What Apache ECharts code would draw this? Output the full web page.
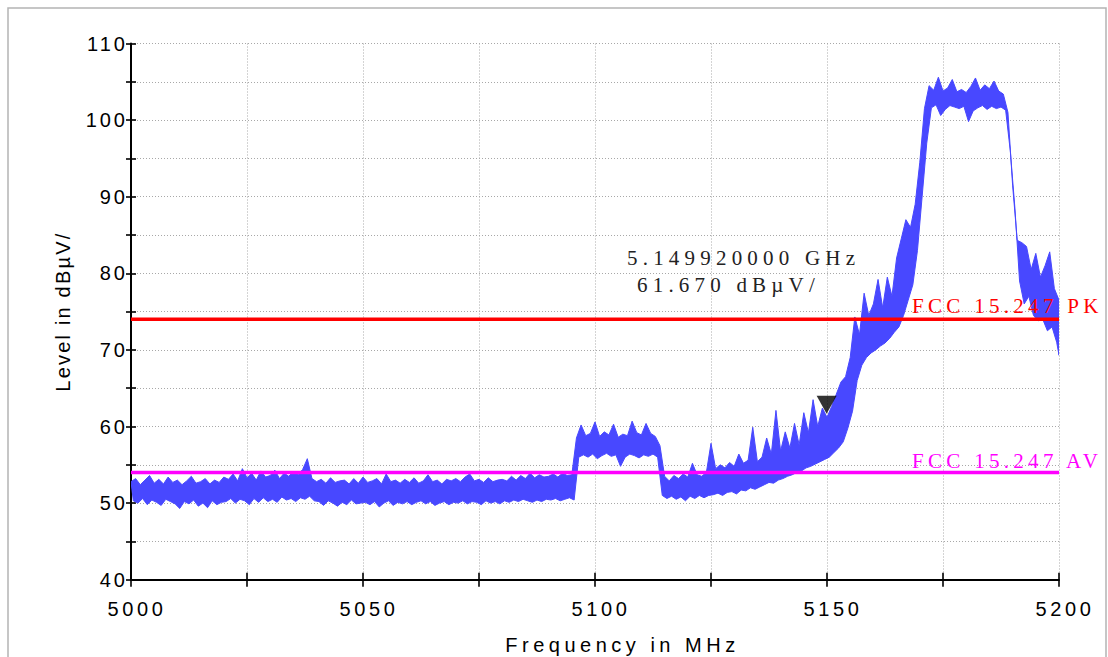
<!DOCTYPE html>
<html>
<head>
<meta charset="utf-8">
<script src="https://cdn.jsdelivr.net/npm/echarts@6/dist/echarts.min.js"></script>
<style>
  html, body { margin: 0; padding: 0; background: #fff; }
  #chart { width: 1108px; height: 657px; }
  text[style*="ls-ytick"] { letter-spacing: 3px; }
  text[style*="ls-xtick"] { letter-spacing: 3.6px; }
  text[style*="ls-xname"] { letter-spacing: 4.5px; }
  text[style*="ls-yname"] { letter-spacing: 2.2px; }
  text[style*="ls-mark"] { letter-spacing: 5.2px; }
  text[style*="ls-lim"] { letter-spacing: 4.3px; }
</style>
</head>
<body>
<div id="chart"></div>
<script>
// Sweep grid: one peak/trough pair per MHz
const freqStart = 5000;
const freqStep = 1;

// Upper (peak) samples of the trace, dBµV, 5000..5200 MHz
const levelHi = [
  52.8, 53.2, 52.4, 53.0, 53.6, 52.6, 53.1, 52.5, 53.4, 52.7,
  53.0, 52.4, 52.9, 53.5, 52.6, 52.8, 53.2, 52.5, 53.0, 52.7,
  53.4, 53.1, 53.8, 52.9, 54.5, 53.3, 53.9, 53.0, 54.2, 53.4,
  53.6, 54.3, 53.2, 53.9, 53.5, 54.1, 53.7, 54.4, 55.8, 53.2,
  52.8, 53.1, 52.6, 53.3, 52.7, 52.9, 53.0, 52.5, 53.2, 52.6,
  53.4, 52.7, 52.9, 53.2, 52.5, 53.8, 52.8, 53.0, 52.6, 53.1,
  52.7, 53.3, 52.6, 52.9, 53.7, 52.8, 53.0, 52.5, 53.1, 52.9,
  53.2, 52.8, 53.4, 53.8, 52.9, 53.1, 52.7, 53.3, 52.8, 53.0,
  53.1, 52.9, 53.5, 53.0, 53.6, 53.2, 53.9, 53.3, 53.7, 53.4,
  53.5, 53.8, 53.4, 53.9, 53.6, 53.7, 58.5, 60.2, 58.8, 59.1,
  60.6, 58.7, 59.3, 58.9, 60.3, 58.6, 59.0, 58.8, 60.7, 59.2,
  58.9, 60.4, 59.1, 58.7, 57.5, 53.5, 52.9, 53.6, 53.2, 53.8,
  53.4, 55.2, 53.7, 53.5, 54.0, 57.8, 54.5, 55.0, 54.6, 55.3,
  54.8, 56.4, 55.2, 55.6, 59.9, 55.4, 56.0, 58.5, 56.4, 62.1,
  56.8, 59.3, 57.2, 60.4, 57.6, 61.8, 59.2, 63.5, 60.0, 62.4,
  61.2, 62.6, 64.2, 65.8, 66.5, 69.0, 74.3, 72.0, 77.4, 74.5,
  76.0, 79.2, 75.5, 79.5, 77.0, 82.0, 84.5, 87.0, 86.0, 89.0,
  94.5, 101.5, 104.5, 103.9, 105.6, 103.8, 104.2, 105.3, 103.7, 104.0,
  103.6, 104.4, 105.5, 103.9, 104.6, 104.1, 105.1, 103.8, 103.4, 101.0,
  91.5, 84.3, 84.0, 83.5, 80.5, 82.6, 79.5, 81.0, 82.8, 78.0,
  76.5
];

// Lower (trough) samples of the trace, dBµV, 5000.5..5200.5 MHz
const levelLo = [
  50.3, 50.0, 50.6, 49.8, 50.4, 50.1, 49.7, 50.5, 50.2, 49.9,
  49.3, 50.2, 49.9, 50.4, 49.6, 50.0, 49.4, 50.3, 49.8, 50.1,
  50.2, 50.6, 50.0, 50.5, 50.3, 49.8, 50.6, 50.1, 50.7, 50.2,
  50.5, 50.1, 50.8, 50.4, 50.6, 50.2, 50.7, 50.5, 50.9, 50.3,
  50.2, 49.7, 50.3, 50.0, 49.6, 50.1, 49.8, 50.4, 49.9, 50.0,
  50.1, 49.8, 50.2, 49.5, 50.0, 50.3, 49.7, 50.1, 49.9, 50.2,
  49.8, 50.1, 50.3, 49.9, 50.2, 49.7, 50.0, 50.2, 49.8, 50.1,
  50.0, 50.3, 49.9, 50.2, 50.1, 49.8, 50.3, 50.0, 50.2, 49.9,
  50.3, 50.1, 50.4, 50.2, 50.5, 50.3, 50.1, 50.4, 50.2, 50.5,
  50.4, 50.6, 50.3, 50.5, 50.7, 50.4, 56.0, 56.3, 56.0, 56.4,
  55.8, 56.2, 56.5, 56.1, 56.3, 54.8, 56.0, 56.4, 56.2, 55.9,
  56.3, 56.1, 56.4, 56.0, 51.0, 50.6, 50.9, 50.5, 50.8, 50.3,
  50.9, 50.6, 51.0, 50.7, 51.0, 51.1, 51.3, 51.0, 51.4, 51.5,
  51.2, 51.7, 51.6, 52.0, 51.8, 52.1, 52.4, 52.7, 52.6, 53.0,
  53.2, 53.5, 53.7, 54.0, 54.2, 54.6, 54.8, 55.1, 55.4, 55.7,
  56.0, 56.6, 57.2, 58.0, 59.8, 62.0, 66.0, 68.0, 69.0, 69.6,
  70.0, 70.5, 70.9, 71.5, 72.3, 73.0, 74.5, 76.5, 78.5, 83.0,
  90.0, 97.0, 101.6, 102.0, 100.6, 101.4, 101.9, 101.7, 101.5, 101.8,
  99.8, 101.2, 101.6, 101.9, 101.4, 101.8, 101.5, 101.7, 101.3, 96.0,
  88.5, 79.0, 76.0, 77.0, 74.5, 73.8, 74.0, 72.5, 73.0, 71.0,
  69.3
];

// Limit lines
const limitNames = ['FCC 15.247 PK', 'FCC 15.247 AV'];
const limitLevels = [74, 54];
const limitColors = ['#ff0000', '#ff00ff'];

// Marker
const markerFreq = [5149.92];
const markerLevel = [61.67];

// Axis ranges
const xMin = 5000, xMax = 5200, xInterval = 50;
const yMin = 40, yMax = 110, yInterval = 10;

const traceColor = '#4848ff';

const chart = echarts.init(document.getElementById('chart'), null, { renderer: 'svg' });

const gridLine = { color: '#a8a8a8', width: 1, type: [1, 2] };
const tickStyle = { color: '#000', width: 1.6 };

function xAxisDef(primary) {
  return {
    type: 'value', min: xMin, max: xMax, interval: xInterval, position: 'bottom',
    axisLine: { show: primary, onZero: false, lineStyle: { color: '#000', width: 2 } },
    axisTick: { show: true, inside: !primary, length: 7, lineStyle: tickStyle },
    minorTick: { show: true, splitNumber: 2, length: 7, lineStyle: tickStyle },
    splitLine: { show: primary, lineStyle: gridLine },
    minorSplitLine: { show: primary, lineStyle: gridLine },
    axisLabel: primary ? {
      show: true, color: '#000', fontSize: 20, fontFamily: 'Liberation Sans, ls-xtick',
      margin: 19, padding: [0, 0, 0, 12], formatter: (v) => String(v)
    } : { show: false },
    name: primary ? 'Frequency in MHz' : '',
    nameLocation: 'middle', nameGap: 55,
    nameTextStyle: { color: '#000', fontSize: 20, fontFamily: 'Liberation Sans, ls-xname', padding: [0, 0, 0, 55] }
  };
}
function yAxisDef(primary) {
  return {
    type: 'value', min: yMin, max: yMax, interval: yInterval, position: 'left',
    axisLine: { show: primary, onZero: false, lineStyle: { color: '#000', width: 2 } },
    axisTick: { show: true, inside: !primary, length: 5, lineStyle: tickStyle },
    minorTick: { show: true, splitNumber: 2, length: 5, lineStyle: tickStyle },
    splitLine: { show: primary, lineStyle: gridLine },
    minorSplitLine: { show: primary, lineStyle: gridLine },
    axisLabel: primary ? {
      show: true, color: '#000', fontSize: 20, fontFamily: 'Liberation Sans, ls-ytick', margin: 3,
      formatter: (v) => String(v)
    } : { show: false },
    name: primary ? 'Level in dBµV/' : '',
    nameLocation: 'middle', nameGap: 58, nameRotate: 90,
    nameTextStyle: { color: '#000', fontSize: 20, fontFamily: 'Liberation Sans, ls-yname' }
  };
}

const limitSeries = limitLevels.map((lv, k) => ({
  type: 'line', name: limitNames[k], xAxisIndex: 0, yAxisIndex: 0,
  data: [[xMin, lv], [xMax, lv]], showSymbol: false, silent: true, z: 4,
  lineStyle: { color: limitColors[k], width: 3.5 }, itemStyle: { color: limitColors[k] }
}));

const limitLabelPos = [[912, 306], [912, 460.5]];
const graphics = [
  { type: 'rect', silent: true, z: -10,
    shape: { x: 8, y: 8, width: 1098, height: 700 },
    style: { fill: 'none', stroke: '#b4b4b4', lineWidth: 1.5 } },
  { type: 'text', z: 20, x: 627, y: 258,
    style: { text: (markerFreq[0] / 1000).toFixed(9) + ' GHz', fill: '#222',
      font: '21px "Liberation Serif", ls-mark', textAlign: 'left', textVerticalAlign: 'middle' } },
  { type: 'text', z: 20, x: 637, y: 284.5,
    style: { text: markerLevel[0].toFixed(3) + ' dBµV/', fill: '#222',
      font: '21px "Liberation Serif", ls-mark', textAlign: 'left', textVerticalAlign: 'middle' } }
];
limitNames.forEach((nm, k) => {
  graphics.push({ type: 'text', z: 20, x: limitLabelPos[k][0], y: limitLabelPos[k][1],
    style: { text: nm, fill: limitColors[k], font: '21px "Liberation Serif", ls-lim',
      textAlign: 'left', textVerticalAlign: 'middle' } });
});

// Trace: filled envelope, peaks on the grid points, troughs half a step later
function renderTrace(params, api) {
  const pts = [];
  for (let i = 0; i < levelHi.length; i++) {
    pts.push(api.coord([freqStart + i * freqStep, levelHi[i]]));
  }
  for (let i = levelLo.length - 1; i >= 0; i--) {
    const f = Math.min(freqStart + i * freqStep + freqStep / 2, xMax);
    pts.push(api.coord([f, levelLo[i]]));
  }
  return {
    type: 'polygon', shape: { points: pts },
    style: { fill: traceColor, stroke: traceColor, lineWidth: 1, lineJoin: 'bevel' }
  };
}

chart.setOption({
  animation: false,
  backgroundColor: '#fff',
  grid: { left: 131, right: 49, top: 43.5, bottom: 77.3, containLabel: false, outerBoundsMode: 'none' },
  xAxis: [xAxisDef(true), xAxisDef(false)],
  yAxis: [yAxisDef(true), yAxisDef(false)],
  series: [
    {
      type: 'custom', name: 'Trace', coordinateSystem: 'cartesian2d', xAxisIndex: 0, yAxisIndex: 0,
      data: [[freqStart, levelLo[0]]], renderItem: renderTrace, silent: true, z: 3, clip: true
    },
    ...limitSeries,
    {
      type: 'scatter', name: 'Marker', xAxisIndex: 0, yAxisIndex: 0,
      data: markerFreq.map((f, i) => [f, markerLevel[i]]),
      symbol: 'path://M0,0L20,0L10,18Z', symbolSize: [20, 18], symbolOffset: [0, -9],
      itemStyle: { color: '#000' }, z: 6, silent: true
    }
  ],
  graphic: graphics
});
</script>
</body>
</html>
